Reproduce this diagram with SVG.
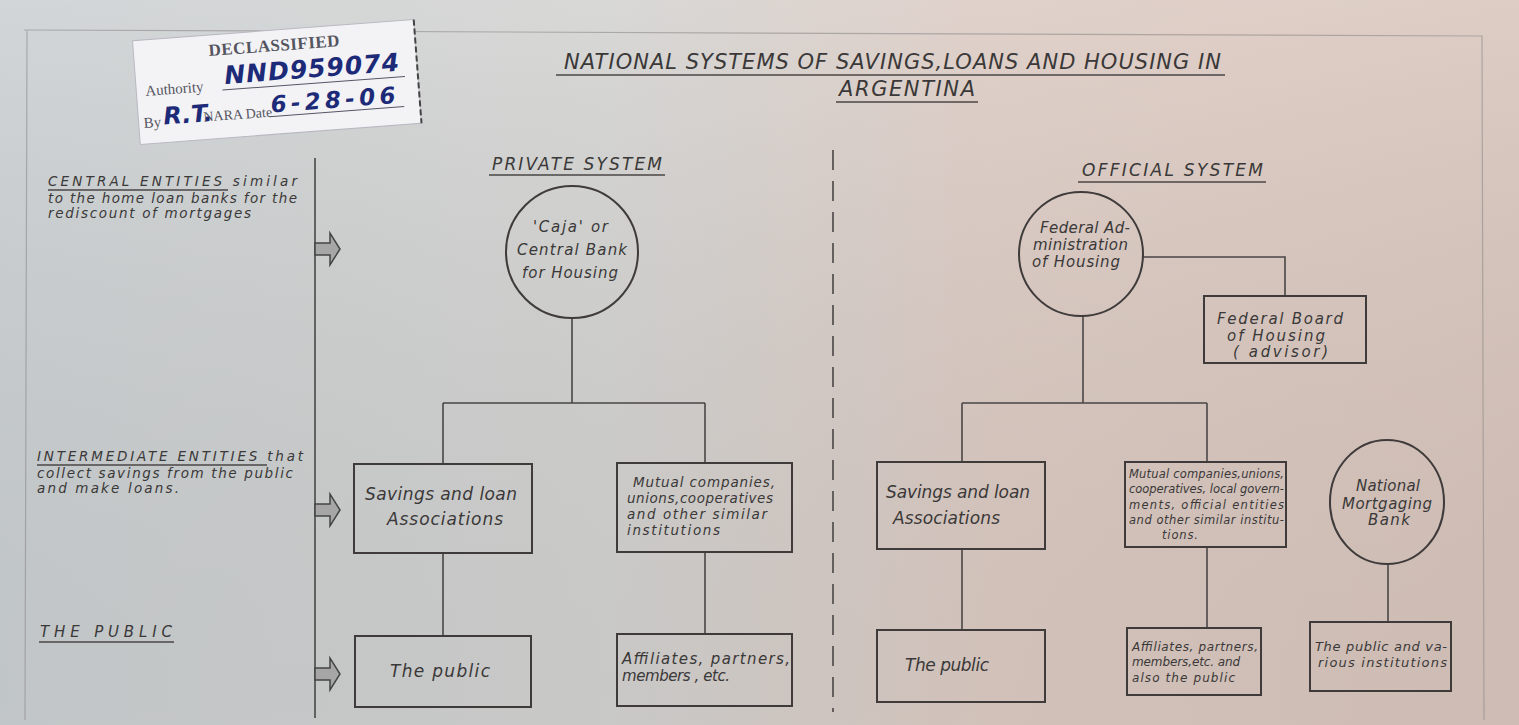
<svg xmlns="http://www.w3.org/2000/svg" width="1519" height="725" viewBox="0 0 1519 725">
<defs>
<linearGradient id="bg" x1="0" y1="0" x2="1" y2="0">
<stop offset="0" stop-color="#cbd0d2"/>
<stop offset="0.4" stop-color="#d3d3d1"/>
<stop offset="0.65" stop-color="#dccbc3"/>
<stop offset="1" stop-color="#d9c6bd"/>
</linearGradient>
<linearGradient id="shade" x1="0" y1="0" x2="0" y2="1">
<stop offset="0" stop-color="#ffffff" stop-opacity="0.12"/>
<stop offset="1" stop-color="#000000" stop-opacity="0.05"/>
</linearGradient>
<path id="barrow" d="M0,-6 H15 V-16 L25,0 L15,16 V6 H0 Z"/>
</defs>
<style>
.t{font-family:"DejaVu Sans","Liberation Sans",sans-serif;font-style:oblique;fill:#3a3838;font-size:17px}
.s{font-size:15px}
.m{font-size:13px}
.sm{font-size:12px}
.xs{font-size:11.5px}
.lb{font-size:13.5px}
.pm{font-size:13.5px}
.ttl{font-size:21px}
.hd{font-size:17px}
.ln{stroke:#4a4646;stroke-width:1.6;fill:none}
.box{stroke:#3f3b3b;stroke-width:2;fill:none}
.ul{stroke:#4a4646;stroke-width:1.6}
.stp{font-family:"Liberation Serif",serif;fill:#555560}
.hw{font-family:"DejaVu Sans",sans-serif;font-style:oblique;fill:#1d2a78}
</style>
<rect width="1519" height="725" fill="url(#bg)"/>
<rect width="1519" height="725" fill="url(#shade)"/>
<path d="M24,30 L1482,36 L1484,720 M27,30 L25,720" fill="none" stroke="#8d8a8a" stroke-width="1.2" opacity="0.6"/>

<g id="stamp" transform="translate(277,82) rotate(-4.3)">
<rect x="-141" y="-52" width="282" height="104" fill="#f3f3f6" stroke="#b8b8c0" stroke-width="1"/>
<line x1="141" y1="-52" x2="141" y2="52" stroke="#444" stroke-width="2" stroke-dasharray="6,3"/>
<text class="stp" x="0" y="-31" text-anchor="middle" font-size="17" font-weight="bold" letter-spacing="0.5">DECLASSIFIED</text>
<text class="stp" x="-132" y="4" font-size="15">Authority</text>
<line x1="-55" y1="4" x2="128" y2="4" stroke="#556" stroke-width="1"/>
<text class="hw" x="-52" y="-2" font-size="25" font-weight="bold" textLength="175">NND959074</text>
<text class="stp" x="-136" y="36" font-size="15">By</text>
<text class="hw" x="-116" y="34" font-size="24" font-weight="bold" fill="#1a1a40">R.T.</text>
<text class="stp" x="-76" y="34" font-size="14">NARA Date</text>
<line x1="-10" y1="34" x2="125" y2="34" stroke="#556" stroke-width="1"/>
<text class="hw" x="-8" y="30" font-size="23" font-weight="bold" textLength="125" fill="#1a1a50">6-28-06</text>
</g>

<g id="title">
<text class="t ttl" x="564" y="69" textLength="657">NATIONAL SYSTEMS OF SAVINGS,LOANS AND HOUSING IN</text>
<line class="ul" x1="556" y1="75" x2="1225" y2="75"/>
<text class="t ttl" x="839" y="96" textLength="136">ARGENTINA</text>
<line class="ul" x1="836" y1="102" x2="978" y2="102"/>
</g>

<g id="row-labels">
<text class="t lb" x="48" y="186" textLength="249">CENTRAL ENTITIES similar</text>
<line class="ul" x1="48" y1="190" x2="228" y2="190"/>
<text class="t lb" x="48" y="203" textLength="249">to the home loan banks for the</text>
<text class="t lb" x="48" y="218" textLength="203">rediscount of mortgages</text>
<text class="t lb" x="37" y="461" textLength="266">INTERMEDIATE ENTITIES that</text>
<line class="ul" x1="37" y1="465" x2="267" y2="465"/>
<text class="t lb" x="37" y="478" textLength="256">collect savings from the public</text>
<text class="t lb" x="37" y="493" textLength="142">and make loans.</text>
<text class="t s" x="40" y="637" textLength="132">THE PUBLIC</text>
<line class="ul" x1="39" y1="642" x2="174" y2="642"/>
</g>

<g id="system-headers">
<text class="t hd" x="492" y="170" textLength="170">PRIVATE SYSTEM</text>
<line class="ul" x1="489" y1="175" x2="665" y2="175"/>
<text class="t hd" x="1082" y="176" textLength="181">OFFICIAL SYSTEM</text>
<line class="ul" x1="1078" y1="182" x2="1266" y2="182"/>
</g>

<g id="connectors">
<line class="ln" x1="315" y1="158" x2="315" y2="718"/>
<line class="ln" x1="833" y1="150" x2="833" y2="712" stroke-dasharray="20,11"/>
<g fill="#a6a6a6" stroke="#444" stroke-width="1.5">
<use href="#barrow" x="315" y="249"/>
<use href="#barrow" x="315" y="510"/>
<use href="#barrow" x="315" y="674"/>
</g>
<path class="ln" d="M572,318 V403 M443,403 H705 M443,403 V464 M705,403 V463 M443,553 V636 M705,552 V634"/>
<path class="ln" d="M1143,257 H1285 V296 M1083,316 V403 M962,403 H1207 M962,403 V462 M1207,403 V462 M962,549 V630 M1207,547 V628 M1388,564 V622"/>
</g>

<g id="caja">
<circle class="box" cx="572" cy="252" r="66"/>
<text class="t s" x="533" y="232" textLength="75">'Caja' or</text>
<text class="t s" x="517" y="255" textLength="110">Central Bank</text>
<text class="t s" x="522" y="278" textLength="96">for Housing</text>
</g>

<g id="fed-admin">
<circle class="box" cx="1081" cy="254" r="62"/>
<text class="t s" x="1040" y="233" textLength="90">Federal Ad-</text>
<text class="t s" x="1033" y="250" textLength="95">ministration</text>
<text class="t s" x="1032" y="267" textLength="88">of Housing</text>
</g>

<g id="fed-board">
<rect class="box" x="1204" y="296" width="162" height="67"/>
<text class="t s" x="1217" y="324" textLength="126">Federal Board</text>
<text class="t s" x="1227" y="341" textLength="98">of Housing</text>
<text class="t s" x="1233" y="357" textLength="95">( advisor)</text>
</g>

<g id="priv-savings">
<rect class="box" x="354" y="464" width="178" height="89"/>
<text class="t" x="365" y="500" textLength="152">Savings and loan</text>
<text class="t" x="387" y="525" textLength="116">Associations</text>
</g>

<g id="priv-mutual">
<rect class="box" x="617" y="463" width="175" height="89"/>
<text class="t pm" x="633" y="487" textLength="142">Mutual companies,</text>
<text class="t pm" x="627" y="503" textLength="146">unions,cooperatives</text>
<text class="t pm" x="627" y="519" textLength="140">and other similar</text>
<text class="t pm" x="627" y="535" textLength="93">institutions</text>
</g>

<g id="priv-public">
<rect class="box" x="355" y="636" width="176" height="71"/>
<text class="t" x="390" y="677" textLength="100">The public</text>
</g>

<g id="priv-affiliates">
<rect class="box" x="617" y="634" width="175" height="72"/>
<text class="t s" x="622" y="664" textLength="168">Affiliates, partners,</text>
<text class="t s" x="622" y="681" textLength="108">members , etc.</text>
</g>

<g id="off-savings">
<rect class="box" x="877" y="462" width="168" height="87"/>
<text class="t" x="886" y="498" textLength="144">Savings and loan</text>
<text class="t" x="893" y="524" textLength="107">Associations</text>
</g>

<g id="off-mutual">
<rect class="box" x="1125" y="462" width="161" height="85"/>
<text class="t xs" x="1129" y="478" textLength="155">Mutual companies,unions,</text>
<text class="t xs" x="1129" y="493" textLength="155">cooperatives, local govern-</text>
<text class="t xs" x="1129" y="509" textLength="155">ments, official entities</text>
<text class="t xs" x="1129" y="524" textLength="155">and other similar institu-</text>
<text class="t xs" x="1162" y="539" textLength="36">tions.</text>
</g>

<g id="national-bank">
<ellipse class="box" cx="1387" cy="502" rx="57" ry="62"/>
<text class="t s" x="1356" y="491" textLength="64">National</text>
<text class="t s" x="1342" y="509" textLength="90">Mortgaging</text>
<text class="t s" x="1368" y="525" textLength="42">Bank</text>
</g>

<g id="off-public">
<rect class="box" x="877" y="630" width="168" height="72"/>
<text class="t" font-size="15.5" x="905" y="671" textLength="84">The public</text>
</g>

<g id="off-affiliates">
<rect class="box" x="1127" y="628" width="134" height="67"/>
<text class="t sm" x="1132" y="651" textLength="126">Affiliates, partners,</text>
<text class="t sm" x="1132" y="666" textLength="108">members,etc. and</text>
<text class="t sm" x="1132" y="682" textLength="103">also the public</text>
</g>

<g id="off-public-inst">
<rect class="box" x="1310" y="622" width="141" height="69"/>
<text class="t m" x="1315" y="651" textLength="132">The public and va-</text>
<text class="t m" x="1318" y="667" textLength="129">rious institutions</text>
</g>
</svg>
